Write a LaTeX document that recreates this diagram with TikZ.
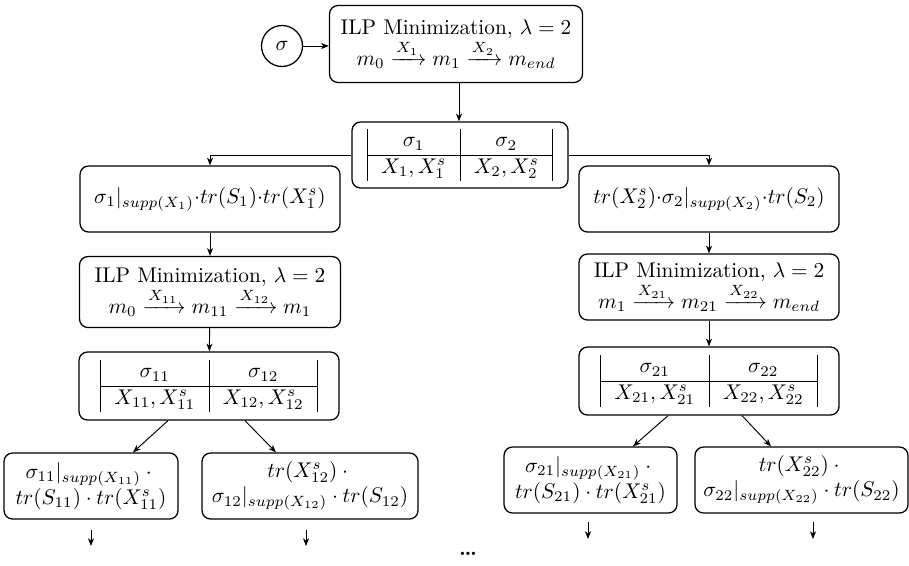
\documentclass[tikz,border=0pt]{standalone}
\usepackage{amsmath}
\usetikzlibrary{arrows.meta}
\newcommand\upx{0.47pt}
\setlength{\arraycolsep}{6.5pt}
\begin{document}
\begin{tikzpicture}[x=0.47pt,y=-0.47pt,
  >={Stealth[length=3.6pt,width=2.8pt,inset=1pt]},
  rbox/.style={draw,rounded corners=4pt,align=center,inner sep=1pt,line width=0.6pt},
  cbox/.style={draw,circle,inner sep=0pt,minimum size=41*\upx,line width=0.6pt},
  conn/.style={->,line width=0.45pt}]
\useasboundingbox (0,0) rectangle (909,565);
\node[cbox] (sig) at (282,46) {$\sigma$};
\node[rbox,minimum width=253*\upx,minimum height=77*\upx] (ilp0) at (456,44)
  {ILP Minimization, $\lambda=2$\\ $m_0\xrightarrow{X_1}m_1\xrightarrow{X_2}m_{end}$};
\node[rbox,minimum width=216*\upx,minimum height=66*\upx] (t0) at (460,155)
  {$\begin{array}{|c|c|}\sigma_1&\sigma_2\\\hline X_1,X_1^s&X_2,X_2^s\end{array}$};
\node[rbox,minimum width=260*\upx,minimum height=66*\upx] (l1) at (210,199)
  {$\sigma_1|_{supp(X_1)}{\cdot}tr(S_1){\cdot}tr(X_1^s)$};
\node[rbox,minimum width=260*\upx,minimum height=66*\upx] (r1) at (709,199)
  {$tr(X_2^s){\cdot}\sigma_2|_{supp(X_2)}{\cdot}tr(S_2)$};
\node[rbox,minimum width=261*\upx,minimum height=71*\upx] (lilp) at (210,292)
  {ILP Minimization, $\lambda=2$\\ $m_0\xrightarrow{X_{11}}m_{11}\xrightarrow{X_{12}}m_1$};
\node[rbox,minimum width=260*\upx,minimum height=66*\upx] (rilp) at (709,287)
  {ILP Minimization, $\lambda=2$\\ $m_1\xrightarrow{X_{21}}m_{21}\xrightarrow{X_{22}}m_{end}$};
\node[rbox,minimum width=260*\upx,minimum height=68*\upx] (lt) at (209,386)
  {$\begin{array}{|c|c|}\sigma_{11}&\sigma_{12}\\\hline X_{11},X_{11}^s&X_{12},X_{12}^s\end{array}$};
\node[rbox,minimum width=260*\upx,minimum height=68*\upx] (rt) at (709,381)
  {$\begin{array}{|c|c|}\sigma_{21}&\sigma_{22}\\\hline X_{21},X_{21}^s&X_{22},X_{22}^s\end{array}$};
\node[rbox,minimum width=174*\upx,minimum height=66*\upx] (a) at (91,486)
  {$\sigma_{11}|_{supp(X_{11})}\cdot{}$\\ $tr(S_{11})\cdot tr(X_{11}^s)$};
\node[rbox,minimum width=216*\upx,minimum height=66*\upx] (b) at (310,486)
  {$tr(X_{12}^s)\cdot{}$\\ $\sigma_{12}|_{supp(X_{12})}\cdot tr(S_{12})$};
\node[rbox,minimum width=173*\upx,minimum height=66*\upx] (c) at (590.5,480)
  {$\sigma_{21}|_{supp(X_{21})}\cdot{}$\\ $tr(S_{21})\cdot tr(X_{21}^s)$};
\node[rbox,minimum width=213*\upx,minimum height=66*\upx] (d) at (801.5,480)
  {$tr(X_{22}^s)\cdot{}$\\ $\sigma_{22}|_{supp(X_{22})}\cdot tr(S_{22})$};
\node (dots) at (468,554) {\textbf{\dots}};
\coordinate (as) at (91,530);  \coordinate (ae) at (91,546);
\coordinate (bs) at (306,530); \coordinate (be) at (306,546);
\coordinate (cs) at (588,522); \coordinate (ce) at (588,539);
\coordinate (ds) at (813,522); \coordinate (de) at (813,539);
\draw[conn] (sig) -- (sig -| ilp0.west);
\draw[conn] ([xshift=3*\upx]ilp0.south) -- ([xshift=-1*\upx]t0.north);
\draw[conn] (t0.west) -| (l1.north);
\draw[conn] (t0.east) -| (r1.north);
\draw[conn] (l1) -- (lilp);
\draw[conn] (lilp) -- (lt);
\draw[conn] (r1) -- (rilp);
\draw[conn] (rilp) -- (rt);
\draw[conn] ([xshift=-41*\upx]lt.south) -- ([xshift=42*\upx]a.north);
\draw[conn] ([xshift=36*\upx]lt.south) -- ([xshift=-34*\upx]b.north);
\draw[conn] ([xshift=-41*\upx]rt.south) -- ([xshift=42.5*\upx]c.north);
\draw[conn] ([xshift=33*\upx]rt.south) -- ([xshift=-30.5*\upx]d.north);
\draw[conn] (as) -- (ae);
\draw[conn] (bs) -- (be);
\draw[conn] (cs) -- (ce);
\draw[conn] (ds) -- (de);
\end{tikzpicture}
\end{document}
